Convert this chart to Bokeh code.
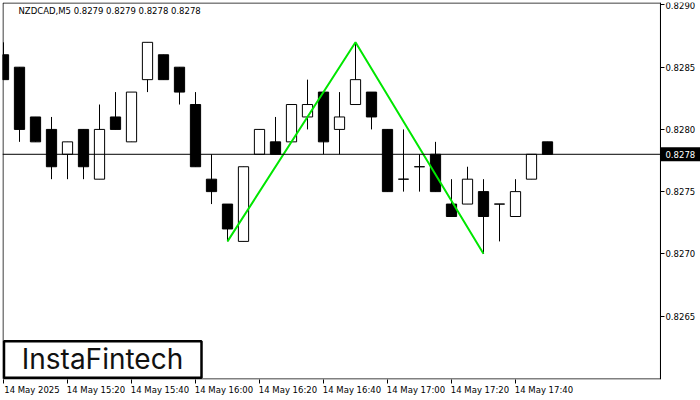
from bokeh.plotting import figure
from bokeh.models import (Range1d, FixedTicker, Span, Label, ColumnDataSource,
                          NumeralTickFormatter, BoxAnnotation, LinearAxis)
from bokeh.embed import file_html
from bokeh.resources import INLINE

# ---------------- data ----------------
symbol = "NZDCAD,M5"
bar_index = list(range(35))
opens = [0.8286, 0.8285, 0.8281, 0.8280, 0.8278, 0.8280, 0.8276, 0.8281, 0.8279, 0.8284,
         0.8286, 0.8285, 0.8282, 0.8276, 0.8274, 0.8271, 0.8278, 0.8279, 0.8279, 0.8281,
         0.8283, 0.8280, 0.8282, 0.8283, 0.8280, 0.8276, 0.8277, 0.8278, 0.8274, 0.8274,
         0.8275, 0.8274, 0.8273, 0.8276, 0.8279]
highs = [0.8287, 0.8285, 0.8281, 0.8281, 0.8279, 0.8280, 0.8282, 0.8283, 0.8283, 0.8287,
         0.8286, 0.8285, 0.8283, 0.8278, 0.8274, 0.8277, 0.8280, 0.8281, 0.8282, 0.8284,
         0.8283, 0.8283, 0.8287, 0.8283, 0.8280, 0.8280, 0.8278, 0.8279, 0.8276, 0.8277,
         0.8276, 0.8274, 0.8276, 0.8278, 0.8279]
lows = [0.8284, 0.8279, 0.8279, 0.8276, 0.8276, 0.8276, 0.8276, 0.8280, 0.8279, 0.8283,
        0.8284, 0.8282, 0.8277, 0.8274, 0.8271, 0.8271, 0.8278, 0.8278, 0.8279, 0.8280,
        0.8278, 0.8278, 0.8282, 0.8280, 0.8275, 0.8275, 0.8275, 0.8275, 0.8273, 0.8274,
        0.8270, 0.8271, 0.8273, 0.8276, 0.8278]
closes = [0.8284, 0.8280, 0.8279, 0.8277, 0.8279, 0.8277, 0.8280, 0.8280, 0.8283, 0.8287,
          0.8284, 0.8283, 0.8277, 0.8275, 0.8272, 0.8277, 0.8280, 0.8278, 0.8282, 0.8282,
          0.8279, 0.8281, 0.8284, 0.8281, 0.8275, 0.8276, 0.8277, 0.8275, 0.8273, 0.8276,
          0.8273, 0.8274, 0.8275, 0.8278, 0.8278]
x_tick_idx = [0, 4, 8, 12, 16, 20, 24, 28, 32]
x_tick_labels = ["14 May 2025", "14 May 15:20", "14 May 15:40", "14 May 16:00",
                 "14 May 16:20", "14 May 16:40", "14 May 17:00", "14 May 17:20",
                 "14 May 17:40"]
y_ticks = [0.8265, 0.8270, 0.8275, 0.8280, 0.8285, 0.8290]
pattern_idx = [14, 22, 30]
pattern_price = [lows[14], highs[22], lows[30]]
brand = "InstaFintech"

# ---------------- layout helpers (reference pixel -> data) ----------------
PX = 16.0                      # pixels per bar
PY = 0.001 / 124.5             # price per pixel
X0, Y0 = -0.0625, 0.82599      # chart area left / bottom
X1, Y1 = 41.06, 0.82902        # chart area right (price scale) / top
XEND = X0 + 698 / PX           # frame reaches the right edge of the canvas
def px_x(px):
    return (px - 3) / PX
def px_y(py):
    return 0.8290 - (py - 4.5) * PY

FONT = "DejaVu Sans"
FS = "8.5px"
LABEL_SHIFT = 1.78   # left-align date labels at their tick

p = figure(width=700, height=400, output_backend="svg", toolbar_location=None,
           x_range=Range1d(X0, XEND), y_range=Range1d(Y0, Y1),
           y_axis_location=None, min_border_left=2, min_border_top=2,
           min_border_right=0, min_border_bottom=21)
p.grid.visible = False
p.outline_line_color = None
p.background_fill_color = "white"
p.border_fill_color = "white"

src = ColumnDataSource(dict(
    x=bar_index, o=opens, h=highs, l=lows, c=closes,
    top=[max(a, b) for a, b in zip(opens, closes)],
    bottom=[min(a, b) for a, b in zip(opens, closes)],
    fill=["black" if c < o else "white" for o, c in zip(opens, closes)],
))

# chart border (left / top / bottom; right side is the price axis line)
p.add_layout(BoxAnnotation(left=X0 + 0.5 / PX, right=X1, bottom=Y0 + 0.5 * PY,
                           top=Y1 - 0.5 * PY, fill_alpha=0, line_color="black",
                           line_width=1, line_alpha=1, level="underlay"))

p.segment(x0="x", y0="h", x1="x", y1="l", source=src, line_color="black", line_width=1)
p.vbar(x="x", width=0.64, top="top", bottom="bottom", source=src,
       fill_color="fill", line_color="black", line_width=1)

p.add_layout(Span(location=closes[-1], dimension="width", line_color="black", line_width=1))

p.line(pattern_idx, pattern_price, line_color="#00e600", line_width=2)

# x axis
xa = p.xaxis[0]
label_pos = [i + LABEL_SHIFT for i in x_tick_idx]
xa.ticker = FixedTicker(ticks=label_pos, minor_ticks=x_tick_idx)
xa.major_label_overrides = {pos: t for pos, t in zip(label_pos, x_tick_labels)}
xa.axis_line_color = None
xa.major_tick_line_color = None
xa.minor_tick_line_color = "black"
xa.minor_tick_in = 0
xa.minor_tick_out = 4
xa.major_tick_out = 4
xa.major_tick_in = 0

# price axis, fixed at the right edge of the chart area
ya = LinearAxis(fixed_location=X1, ticker=FixedTicker(ticks=y_ticks),
                formatter=NumeralTickFormatter(format="0.0000"))
p.add_layout(ya, "right")
ya.major_tick_line_color = "black"
ya.major_tick_in = 0
ya.major_tick_out = 4
ya.minor_tick_line_color = None
ya.axis_line_color = "black"

for ax in (xa, ya):
    ax.major_label_text_font = FONT
    ax.major_label_text_font_size = FS
    ax.major_label_text_color = "black"
    ax.major_label_standoff = 1

# title
p.add_layout(Label(x=px_x(18), y=px_y(11),
                   text=f"{symbol}  {opens[-1]:.4f} {highs[-1]:.4f} {lows[-1]:.4f} {closes[-1]:.4f}",
                   text_font=FONT, text_font_size=FS, text_color="black",
                   text_baseline="middle", text_align="left"))

# price tag
p.add_layout(BoxAnnotation(left=X1, right=XEND, bottom=closes[-1] - 7 * PY,
                           top=closes[-1] + 7 * PY, fill_color="black", fill_alpha=1,
                           line_color=None))
p.add_layout(Label(x=X1, y=closes[-1], text=f"{closes[-1]:.4f}", x_offset=5,
                   text_font=FONT, text_font_size=FS, text_color="white",
                   text_baseline="middle", text_align="left"))

# logo
p.add_layout(BoxAnnotation(left=px_x(3.5), right=px_x(201), bottom=px_y(377.5), top=px_y(341),
                           fill_color="white", fill_alpha=1, line_color="black",
                           line_width=2.5, line_alpha=1))
p.add_layout(Label(x=px_x(102), y=px_y(359), text=brand, text_font="Inter",
                   text_font_size="28px", text_color="#111111",
                   text_align="center", text_baseline="middle"))

open("out.html", "w").write(file_html(p, INLINE))
